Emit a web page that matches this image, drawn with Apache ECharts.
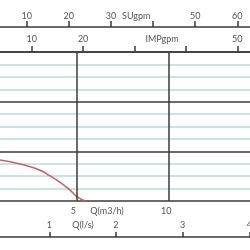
<!DOCTYPE html>
<html><head><meta charset="utf-8">
<script src="https://cdn.jsdelivr.net/npm/echarts@6/dist/echarts.min.js"></script>
<style>html,body{margin:0;padding:0;background:#fff}#c{width:250px;height:250px}</style>
</head><body><div id="c"></div>
<script>
// Curve data: flow Q (m3/h) vs head (arbitrary units of hidden y axis)
const flowM3h = [0.815, 1.90, 2.99, 3.53, 4.08, 4.62, 5.0, 5.43];
const head    = [3.30, 2.98, 2.48, 2.02, 1.50, 0.88, 0.36, 0.0];

// Tick values / labels for each scale
const m3hLines  = [5, 10];
const m3hLabels = [4.8, 6.63, 9.85];        // 6.63 -> axis name position
const lsTicks   = [1, 2, 3, 4];
const lsLabels  = [1, 1.505, 2, 3, 4];      // 1.505 -> axis name position
const suTicks   = [10, 20, 30, 40, 50, 60];
const suLabels  = [10, 20, 30, 36, 50, 60]; // 36 -> axis name position
const impTicks  = [10, 20, 30, 40, 50];
const impLabels = [10, 20, 35.35, 50];      // 35.35 -> axis name position

const txt = {color:'#555', fontSize:9, fontFamily:'Lato, "Liberation Sans", sans-serif'};
const dark = '#3a3a3a';

const chart = echarts.init(document.getElementById('c'), null, {renderer:'canvas'});
chart.setOption({
  animation:false,
  grid:{left:0,right:0,top:52,bottom:49,outerBoundsMode:'none',containLabel:false},
  xAxis:[
    {type:'value',position:'bottom',offset:0,min:0.815,max:14.40,
     axisLine:{lineStyle:{color:dark,width:1.5}},axisTick:{show:false},
     splitLine:{show:false},
     axisLabel:Object.assign({customValues:m3hLabels,margin:6,
       formatter:v=>v<5?'5':(v>9?'10':'Q(m3/h)')},txt)},
    {type:'value',position:'bottom',offset:36,min:0.2605,max:4.0105,
     axisLine:{lineStyle:{color:dark,width:1.5}},
     axisTick:{show:true,inside:true,length:5,customValues:lsTicks,lineStyle:{color:dark,width:1.5}},
     splitLine:{show:false},
     axisLabel:Object.assign({inside:true,customValues:lsLabels,margin:7,
       formatter:v=>Number.isInteger(v)?String(v):'Q(l/s)'},txt)},
    {type:'value',position:'top',offset:25,min:3.66,max:63.02,
     axisLine:{lineStyle:{color:dark,width:1.5}},
     axisTick:{show:true,length:6,customValues:suTicks,lineStyle:{color:dark,width:1.5}},
     splitLine:{show:false},
     axisLabel:Object.assign({customValues:suLabels,margin:6,
       formatter:v=>Number.isInteger(v)&&v%10===0?String(v):'SUgpm'},txt)},
    {type:'value',position:'top',offset:0,min:3.833,max:52.47,
     axisLine:{lineStyle:{color:dark,width:1.5}},
     axisTick:{show:true,length:6,customValues:impTicks,lineStyle:{color:dark,width:1.5}},
     splitLine:{show:false},
     axisLabel:Object.assign({customValues:impLabels,margin:8,
       formatter:v=>Number.isInteger(v)&&v%10===0?String(v):'IMPgpm'},txt)}
  ],
  yAxis:{type:'value',min:0,max:12,interval:4,
    axisLine:{show:false},axisTick:{show:false},axisLabel:{show:false},
    splitLine:{show:true,showMinLine:false,lineStyle:{color:dark,width:1.5}},
    minorTick:{show:false,splitNumber:4},
    minorSplitLine:{show:true,lineStyle:{color:'#b7dcdc',width:1.5}}},
  series:[{
    type:'line',xAxisIndex:0,smooth:true,symbol:'none',
    data:flowM3h.map((q,i)=>[q,head[i]]),
    lineStyle:{color:'#c8606a',width:1.5},
    markLine:{silent:true,symbol:'none',label:{show:false},
      lineStyle:{color:dark,width:1.5,type:'solid'},
      data:m3hLines.map(v=>({xAxis:v}))}
  }]
});
</script></body></html>
